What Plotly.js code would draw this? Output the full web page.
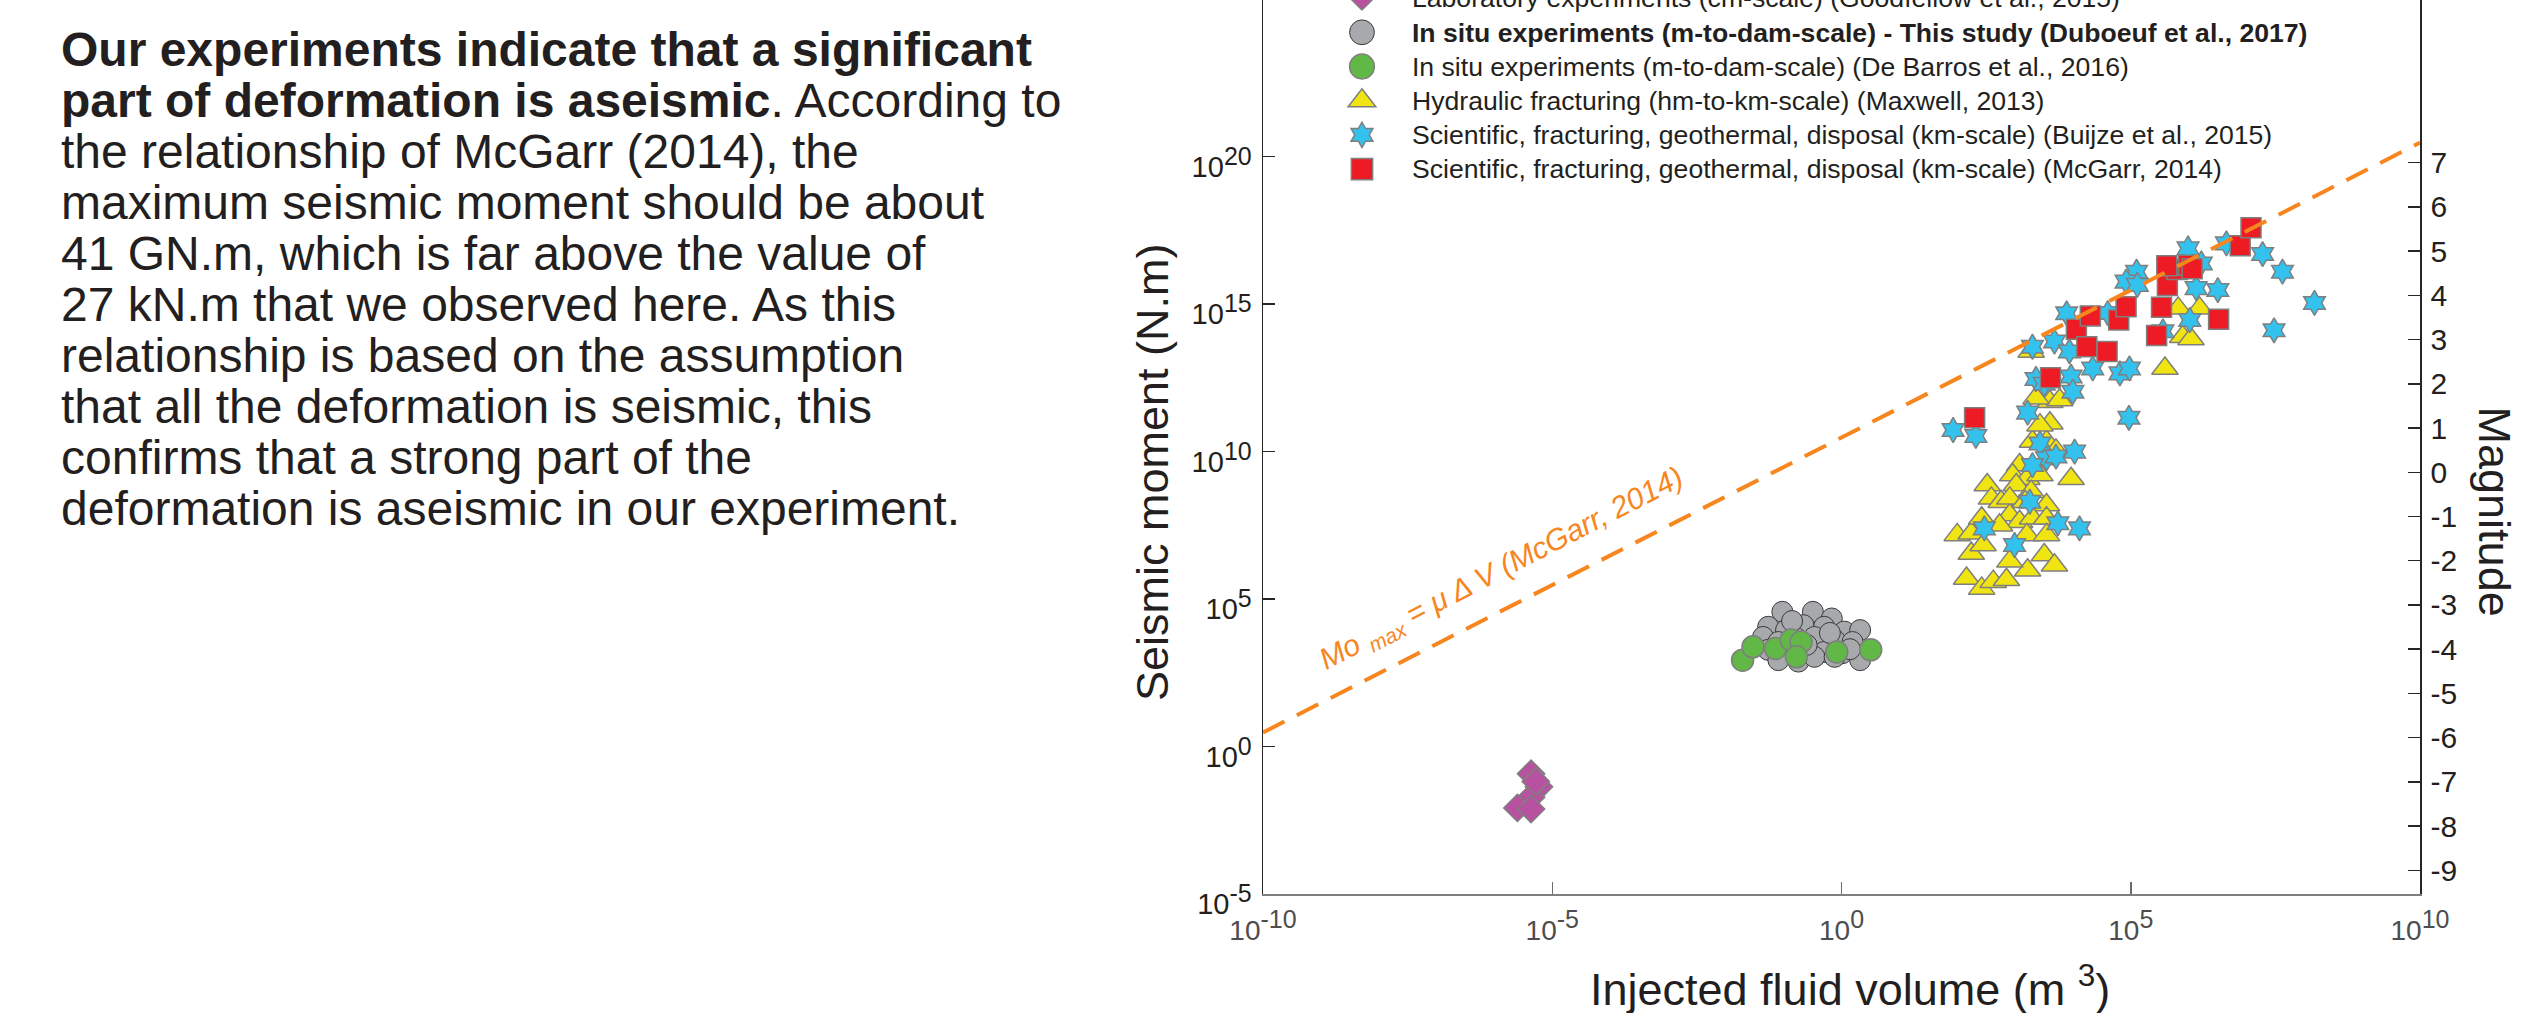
<!DOCTYPE html>
<html><head><meta charset="utf-8">
<script src="https://cdn.plot.ly/plotly-3.0.1.min.js"></script>
<style>
html,body{margin:0;padding:0;background:#fff;overflow:hidden;width:2522px;height:1013px;}
#txt{position:absolute;left:61px;top:24px;font-family:"Liberation Sans",Arial,Helvetica,sans-serif;font-size:48px;line-height:51px;color:#231f20;white-space:nowrap;}
#chart{position:absolute;left:0;top:-100px;width:2522px;height:1113px;}
</style></head><body>
<div id="txt"></div>
<div id="chart"></div>
<script>
// ---------- text ----------
const paragraphLines = [
  '<b>Our experiments indicate that a significant</b>',
  '<b>part of deformation is aseismic</b>. According to',
  'the relationship of McGarr (2014), the',
  'maximum seismic moment should be about',
  '41 GN.m, which is far above the value of',
  '27 kN.m that we observed here. As this',
  'relationship is based on the assumption',
  'that all the deformation is seismic, this',
  'confirms that a strong part of the',
  'deformation is aseismic in our experiment.'
];

// ---------- series names ----------
const seriesNames = [
  'Laboratory experiments (cm-scale) (Goodfellow et al., 2015)',
  '<b>In situ experiments (m-to-dam-scale) - This study (Duboeuf et al., 2017)</b>',
  'In situ experiments (m-to-dam-scale) (De Barros et al., 2016)',
  'Hydraulic fracturing (hm-to-km-scale) (Maxwell, 2013)',
  'Scientific, fracturing, geothermal, disposal (km-scale) (Buijze et al., 2015)',
  'Scientific, fracturing, geothermal, disposal (km-scale) (McGarr, 2014)'
];

// ---------- data: injected volume (m3) and seismic moment (N.m) ----------
const labV  = [4.3e-6, 5.9e-6, 4.3e-6, 2.5e-6, 4.3e-6, 5.2e-6];
const labMo = [0.12, 0.043, 0.019, 0.0083, 0.0076, 0.065];

const studyV  = [0.095, 0.32, 0.68, 0.054, 0.11, 0.22, 0.50, 1.12, 2.1, 0.044, 0.081, 0.166, 0.34, 0.76, 1.55,
                 0.054, 0.11, 0.22, 0.50, 1.02, 2.1, 0.081, 0.18, 0.34, 0.76, 0.14, 0.63, 0.25, 1.4];
const studyMo = [3.7e4, 3.7e4, 2.2e4, 1.15e4, 8.9e3, 1.3e4, 1.15e4, 7.9e3, 8.9e3, 5.2e3, 3.5e3, 4.7e3, 5.2e3, 4.1e3, 3.5e3,
                 1.9e3, 1.45e3, 1.9e3, 1.6e3, 1.45e3, 850, 850, 760, 1.1e3, 1.1e3, 1.8e4, 7.1e3, 2.8e3, 2.0e3];

const debarrosV  = [0.0195, 0.0295, 0.072, 0.135, 0.20, 0.166, 0.83, 3.2];
const debarrosMo = [850, 2.4e3, 2.1e3, 4.1e3, 3.5e3, 1.1e3, 1.6e3, 1.9e3];

const maxwellV  = [1.9e3, 4.0e3, 5.9e3, 4.0e3, 2.0e3, 3.5e3, 5.1e3, 1.2e3, 910, 1.6e3, 2.7e3, 9.3e3, 330, 390, 575, 1.05e3,
                   1.9e3, 3.5e3, 810, 1.2e3, 2.0e3, 3.5e3, 100, 175, 265, 175, 280, 540, 1.6e3, 3.5e3, 3.2e3, 4.8e3,
                   145, 265, 420, 710, 1.65e3, 810, 6.6e5, 1.55e6, 7.9e5, 1.1e6, 3.9e5, 2.3e3, 2.7e3, 810, 1.5e3];
const maxwellMo = [2.5e13, 4.9e11, 5.6e11, 9.1e10, 2.2e10, 2.2e10, 1.1e10, 3.5e9, 1.6e9, 1.2e9, 1.6e9, 1.2e9, 7.4e8, 2.6e8, 2.0e8, 7.4e8,
                   4.4e8, 1.55e8, 7.1e7, 4.2e7, 5.5e7, 5.5e7, 1.5e7, 1.7e7, 5.5e7, 3.5e6, 6.8e6, 3.2e7, 1.5e7, 1.5e7, 3.1e6, 1.4e6,
                   5.0e5, 2.3e5, 3.9e5, 4.5e5, 9.5e5, 1.9e6, 7.2e14, 7.2e14, 7.9e13, 6.6e13, 6.6e12, 6.5e11, 7.9e10, 2.6e8, 2.0e8];

const buijzeV  = [85, 210, 1.65e3, 2.3e3, 2.0e3, 4.8e3, 7.8e3, 8.7e3, 9.3e3, 1.0e4, 2.2e4, 6.5e4, 9.5e4, 9.3e4, 1.26e5, 8.3e4,
                  1.3e5, 9.8e5, 1.35e6, 3.2e6, 1.05e6, 4.5e6, 1.9e7, 4.2e7, 1.5e8, 3.0e7, 2.7e3, 3.5e3, 5.1e3, 1.07e4,
                  2.0e3, 1.8e3, 295, 980, 5.5e3, 1.3e4, 3.2e3, 4.0e4, 3.6e5, 1.66e6];
const buijzeMo = [5.4e10, 3.4e10, 2.1e11, 2.9e12, 3.6e13, 5.4e13, 4.9e14, 2.5e13, 3.5e12, 1.07e12, 6.6e12, 4.5e12, 6.6e12, 1.4e11, 1.26e16, 5.8e15,
                  4.5e15, 7.8e16, 3.5e15, 3.0e15, 2.9e14, 1.15e17, 5.0e16, 1.26e16, 1.1e15, 1.3e14, 1.9e10, 5.9e9, 6.8e9, 1.0e10,
                  3.5e9, 2.0e8, 2.5e7, 6.8e6, 3.7e7, 2.5e7, 2.0e12, 5.0e14, 1.2e14, 2.4e16];

const mcgarrV  = [200, 4.1e3, 1.15e4, 2.0e4, 1.74e4, 3.9e4, 6.2e4, 8.3e4, 2.8e5, 3.4e5, 4.3e5, 6.3e5, 1.0e6, 3.3e6, 7.8e6, 1.2e7, 4.2e5, 1.15e6];
const mcgarrMo = [1.4e11, 3.2e12, 1.4e14, 4.0e14, 3.6e13, 2.5e13, 2.9e14, 8.1e14, 8.7e13, 7.8e14, 4.3e15, 1.5e16, 2.1e16, 3.1e14, 9.5e16, 3.9e17, 2.0e16, 1.6e16];

// McGarr (2014) upper bound Mo_max = mu * dV, end points (mu = 3e10 Pa)
const boundV  = [1e-10, 1e10];
const boundMo = [3, 3e20];

// ---------- ticks ----------
const xTickVals = [1e-10, 1e-5, 1, 1e5, 1e10];
const xTickExp  = ['-10', '-5', '0', '5', '10'];
const yTickVals = [1e-5, 1, 1e5, 1e10, 1e15, 1e20];
const yTickExp  = ['-5', '0', '5', '10', '15', '20'];
const magTickVals = [-9, -8, -7, -6, -5, -4, -3, -2, -1, 0, 1, 2, 3, 4, 5, 6, 7];
const magTickText = ['-9', '-8', '-7', '-6', '-5', '-4', '-3', '-2', '-1', '0', '1', '2', '3', '4', '5', '6', '7'];

// ---------- build ----------
document.getElementById('txt').innerHTML = paragraphLines.join('<br>');

const FONT = '"Liberation Sans", Arial, Helvetica, sans-serif';
const TXT = '#231f20';
const EDGE = '#7f7f7f';
const supLabel = (e, s) => '10<sup><span style="font-size:' + s + 'px">' + e + '</span></sup>';
const legendName = n => '<span style="font-size:26.6px">' + n + '</span>';
// legend symbols are capped at 16px by Plotly; enlarge them to the reference's legend symbol size
const legendSymbolScale = [1.15, 1.55, 1.55, 1.5, 1.2, 1.33];

function pts(name, x, y, symbol, size, color, lineColor, lineWidth) {
  return {type: 'scatter', mode: 'markers', name: legendName(name), x: x, y: y, cliponaxis: false,
    marker: {symbol: symbol, size: size, color: color, line: {color: lineColor, width: lineWidth}}};
}

const traces = [
  pts(seriesNames[0], labV, labMo, 'diamond', 21, '#b8519f', EDGE, 1.5),
  pts(seriesNames[1], studyV, studyMo, 'circle', 21, '#a7a9ac', '#3a3a3a', 1),
  pts(seriesNames[2], debarrosV, debarrosMo, 'circle', 22, '#62b847', EDGE, 1.5),
  pts(seriesNames[3], maxwellV, maxwellMo, 'triangle-up', 23, '#f0e513', EDGE, 1.5),
  pts(seriesNames[4], buijzeV, buijzeMo, 'hexagram', 19, '#33c2ee', EDGE, 1.5),
  pts(seriesNames[5], mcgarrV, mcgarrMo, 'square', 20, '#ed1c24', EDGE, 1.5),
  {type: 'scatter', mode: 'lines', x: boundV, y: boundMo, showlegend: false, hoverinfo: 'skip',
   line: {color: '#f7861f', width: 4, dash: '24px,14px'}},
  // empty carrier so that the magnitude axis (y2) is instantiated
  {type: 'scatter', mode: 'markers', x: [null], y: [null], yaxis: 'y2', showlegend: false, hoverinfo: 'skip'}
];

const yRange = [-5, 26.5];
const mw = l => (2 / 3) * (l - 9.3);

// page-pixel helpers for annotation placement (plot: left 1263, width 1157.5, bottom 894, height 929)
const px = p => (p - 1263) / 1157.5;
const py = p => (894 - p) / 929;

const layout = {
  width: 2522, height: 1113,
  margin: {l: 1263, r: 101.5, t: 65, b: 119, pad: 0},
  paper_bgcolor: 'rgba(0,0,0,0)', plot_bgcolor: 'rgba(0,0,0,0)',
  font: {family: FONT, color: TXT},
  showlegend: true,
  legend: {x: px(1312), y: py(-24), xanchor: 'left', yanchor: 'top', bgcolor: 'rgba(0,0,0,0)',
           borderwidth: 0, itemwidth: 90, font: {size: 24, color: TXT, family: FONT}},
  xaxis: {type: 'log', range: [-10, 10], tickmode: 'array', tickvals: xTickVals, ticktext: xTickExp.map(e => supLabel(e, 25)),
          ticks: 'inside', ticklen: 12, tickwidth: 1.5, tickcolor: '#6d6d6d', showline: true, linecolor: '#7f7f7f',
          linewidth: 2, showgrid: false, zeroline: false, tickfont: {size: 28, color: '#4d4d4d', family: FONT},
          ticklabelstandoff: 10},
  yaxis: {type: 'log', range: yRange, tickmode: 'array', tickvals: yTickVals, ticktext: yTickExp.map(e => supLabel(e, 25)),
          ticks: 'inside', ticklen: 12, tickwidth: 1.5, tickcolor: '#262626', showline: true, linecolor: '#262626',
          linewidth: 1.5, showgrid: false, zeroline: false, tickfont: {size: 29, color: TXT, family: FONT},
          ticklabelstandoff: 4, ticklabelshift: 10},
  yaxis2: {overlaying: 'y', anchor: 'x', side: 'right', range: [mw(yRange[0]), mw(yRange[1])], tickmode: 'array',
           tickvals: magTickVals, ticktext: magTickText, ticks: 'inside', ticklen: 12, tickwidth: 1.5,
           tickcolor: '#262626', showline: true, linecolor: '#262626', linewidth: 1.5, showgrid: false,
           zeroline: false, tickfont: {size: 30, color: TXT, family: FONT}, ticklabelstandoff: 3},
  annotations: [
    {xref: 'paper', yref: 'paper', x: px(1152), y: py(472), text: 'Seismic moment (N.m)', textangle: -90,
     showarrow: false, xanchor: 'center', yanchor: 'middle', font: {size: 45, color: TXT, family: FONT}},
    {xref: 'paper', yref: 'paper', x: px(2495), y: py(512), text: 'Magnitude', textangle: 90,
     showarrow: false, xanchor: 'center', yanchor: 'middle', font: {size: 45, color: TXT, family: FONT}},
    {xref: 'paper', yref: 'paper', x: px(1850), y: py(986), text: 'Injected fluid volume (m <sup>3</sup>)',
     showarrow: false, xanchor: 'center', yanchor: 'middle', font: {size: 45, color: TXT, family: FONT}},
    {xref: 'paper', yref: 'paper', x: px(1502), y: py(569), text: '<i>Mo <sub>max</sub> = μ Δ V (McGarr, 2014)</i>',
     textangle: -27.4, showarrow: false, xanchor: 'center', yanchor: 'middle',
     font: {size: 30, color: '#f7861f', family: FONT}}
  ]
};

Plotly.newPlot('chart', traces, layout, {displayModeBar: false, staticPlot: true}).then(gd => {
  gd.querySelectorAll('.legend .traces').forEach((g, i) => {
    const s = legendSymbolScale[i] || 1;
    g.querySelectorAll('path.scatterpts').forEach(p => {
      const t = p.getAttribute('transform') || '';
      p.setAttribute('transform', (t + ' scale(' + s + ')').trim());
      p.style.vectorEffect = 'non-scaling-stroke';
    });
  });
});
</script>
</body></html>
